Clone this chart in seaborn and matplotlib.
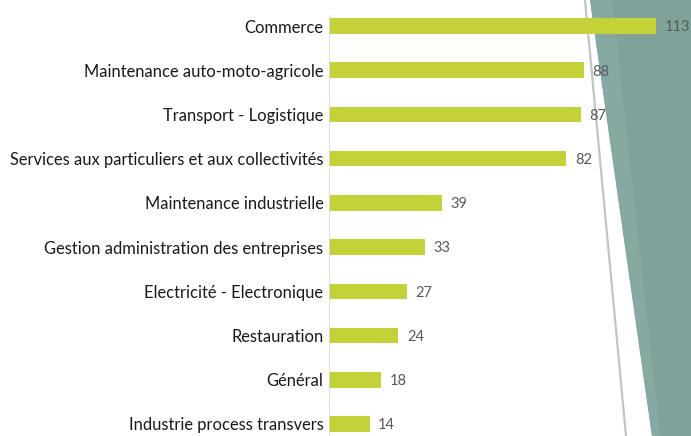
import numpy as np
import pandas as pd
import matplotlib
matplotlib.use("Agg")
import matplotlib.pyplot as plt
from matplotlib.patches import Polygon
from matplotlib.lines import Line2D
import seaborn as sns

categories = [
    "Commerce",
    "Maintenance auto-moto-agricole",
    "Transport - Logistique",
    "Services aux particuliers et aux collectivités",
    "Maintenance industrielle",
    "Gestion administration des entreprises",
    "Electricité - Electronique",
    "Restauration",
    "Général",
    "Industrie process transvers",
]
values = [113, 88, 87, 82, 39, 33, 27, 24, 18, 14]

df = pd.DataFrame({"secteur": categories, "effectif": values})

sns.set_style("white")
plt.rcParams["font.family"] = ["Lato", "DejaVu Sans"]

W, H = 691, 436
fig = plt.figure(figsize=(W / 100, H / 100), dpi=100)

# decorative background shapes (figure pixel coords), behind the axes
teal = Polygon([(590 / W, 1), (1, 1), (1, 0), (652 / W, 0)],
               closed=True, transform=fig.transFigure,
               facecolor="#7fa39b", edgecolor="none", zorder=-2)
band = Polygon([(590 / W, 1), (612 / W, 1), (660 / W, 0), (652 / W, 0)],
               closed=True, transform=fig.transFigure,
               facecolor="#86a9a1", edgecolor="none", zorder=-2)
fig.patches.extend([teal, band])
fig.lines.append(Line2D([585 / W, 626 / W], [1, 0], transform=fig.transFigure,
                        color="#c4c4c4", lw=1.6, zorder=-1))

ax = fig.add_axes([329 / W, 0, 1 - 329 / W, 1])
ax.patch.set_alpha(0)

sns.barplot(data=df, x="effectif", y="secteur", orient="h",
            color="#c4d23a", saturation=1, width=0.35, linewidth=0, ax=ax)

step = 44.22
ax.set_xlim(0, (W - 329) / 2.894)
ax.set_ylim(9 + 12 / step, -26 / step)

for i, v in enumerate(values):
    ax.text(v + 3, i + 0.03, str(v), va="center", ha="left",
            fontsize=10.5, color="#595959")

for s in ax.spines.values():
    s.set_visible(False)
ax.axvline(0, ymin=0, ymax=1 - 15 / H, color="#d9d9d9", lw=1.2)

ax.set_xticks([])
ax.set_xlabel("")
ax.set_ylabel("")
ax.tick_params(axis="y", length=0, pad=4, labelsize=11.9, labelcolor="#1a1a1a")

fig.savefig("out.png", dpi=100)
